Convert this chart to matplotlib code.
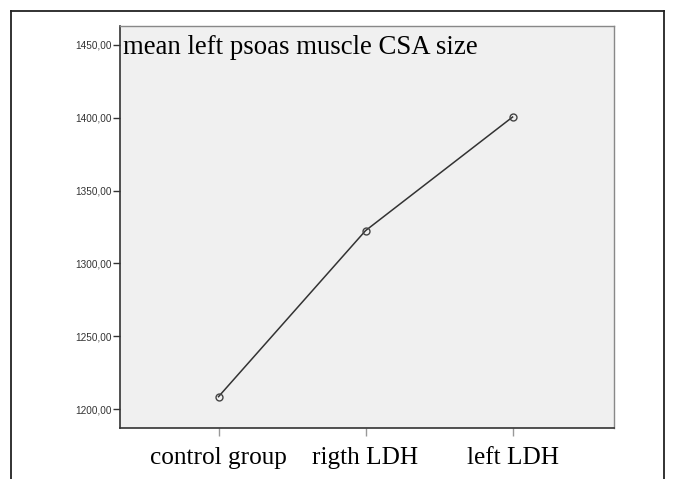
import matplotlib.pyplot as plt
from matplotlib.lines import Line2D

# group means of left psoas CSA
groups = ['control group', 'rigth LDH', 'left LDH']
mean_csa = [1208.5, 1322.5, 1400.5]
yticks = [1200, 1250, 1300, 1350, 1400, 1450]
ytick_labels = ['1200,00', '1250,00', '1300,00', '1350,00', '1400,00', '1450,00']

W, H = 674, 479
fig = plt.figure(figsize=(W / 100, H / 100), dpi=100)
fig.patch.set_facecolor('white')

# plot area in pixels: left 120, right 614, top 26, bottom 428
ax = fig.add_axes([120 / W, 1 - 428 / H, (614 - 120) / W, (428 - 26) / H])
ax.set_facecolor('#f0f0f0')

x = list(range(len(groups)))
ax.plot(x, mean_csa, color='#333333', lw=1.1, marker='o', ms=5,
        mfc='none', mec='#444444', mew=1.0)

ax.set_xlim(-0.67, 2.69)
ax.set_ylim(1187, 1463)
ax.set_yticks(yticks)
ax.set_yticklabels(ytick_labels, fontsize=7.2, family='Liberation Sans', color='#333333')
ax.set_xticks(x)
ax.set_xticklabels(groups, fontsize=18.2, family='Liberation Serif')
ax.tick_params(axis='y', length=5, width=1, color='#333333', pad=1)
ax.tick_params(axis='x', length=6, width=1, color='#999999', pad=8)

for side in ['left', 'bottom']:
    ax.spines[side].set_color('#333333')
    ax.spines[side].set_linewidth(1.2)
for side in ['top', 'right']:
    ax.spines[side].set_color('#888888')
    ax.spines[side].set_linewidth(1.0)

ax.text(0.006, 0.977, 'mean left psoas muscle CSA size', transform=ax.transAxes,
        fontsize=19.3, family='Liberation Serif', va='top', ha='left')

# outer frame around the figure (open at the bottom)
fx0, fx1, fy0 = 11 / W, 664 / W, 1 - 11 / H
for xs, ys in [([fx0, fx0], [0, fy0]), ([fx0, fx1], [fy0, fy0]), ([fx1, fx1], [fy0, 0])]:
    fig.add_artist(Line2D(xs, ys, transform=fig.transFigure, color='#222222', lw=1.3))

fig.savefig('out.png', dpi=100)
